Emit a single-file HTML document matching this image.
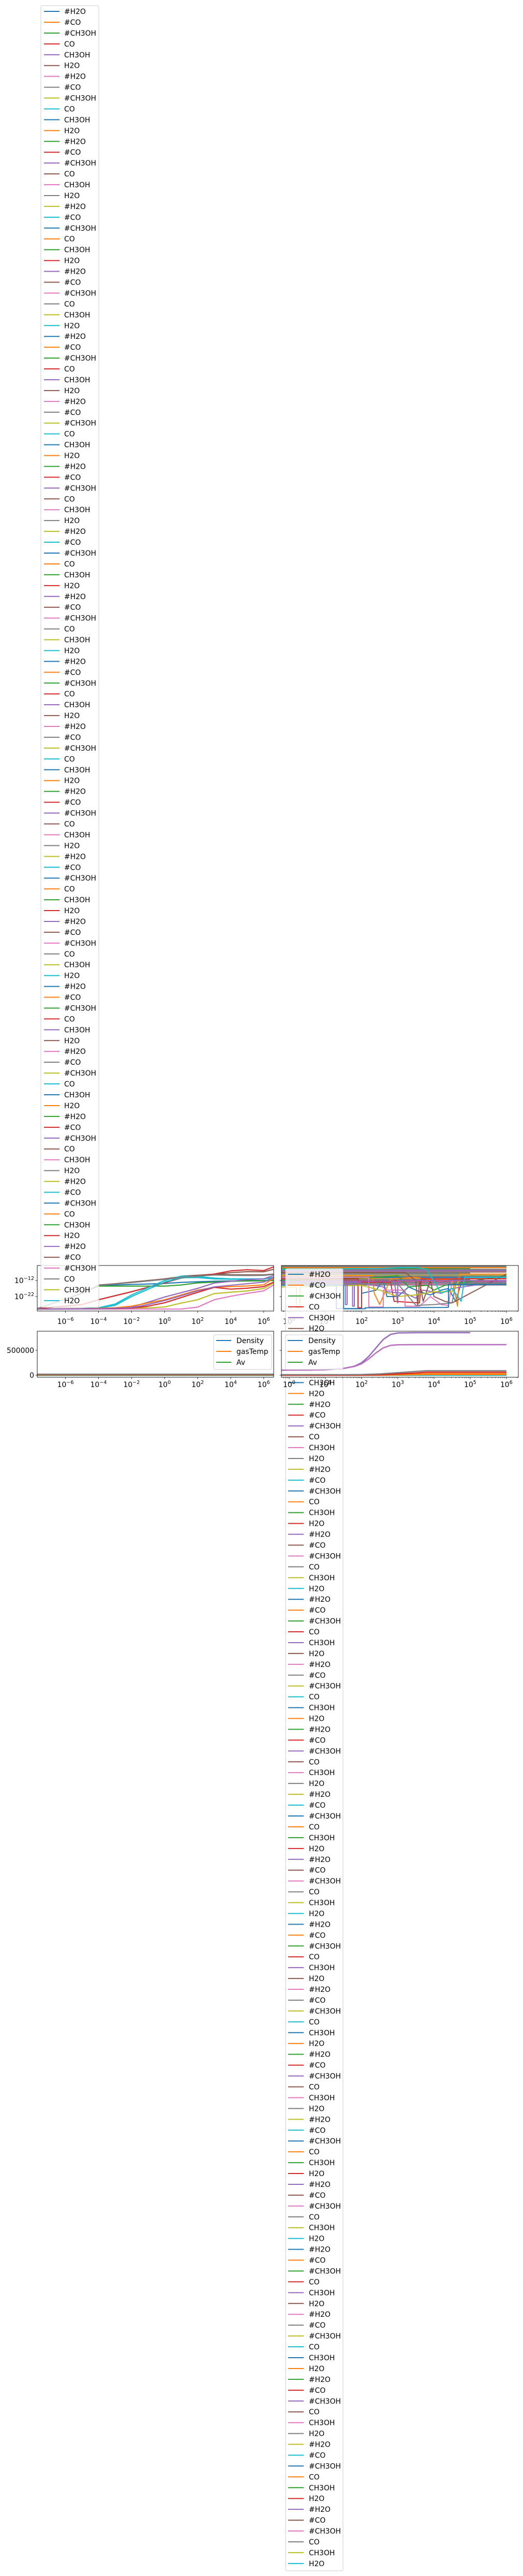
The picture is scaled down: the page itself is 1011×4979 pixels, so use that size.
<!DOCTYPE html>
<html><head><meta charset="utf-8">
<style>
html,body{margin:0;padding:0;background:#fff;}
svg{display:block;font-family:"DejaVu Sans","Liberation Sans",sans-serif;}
</style></head>
<body>
<svg id="fig" width="1011" height="4979" viewBox="0 0 1011 4979" xmlns="http://www.w3.org/2000/svg">
<rect x="0" y="0" width="1011" height="4979" fill="#fff"/>
</svg>
<script>
// ---------- data ----------
const speciesLabels = ["#H2O","#CO","#CH3OH","CO","CH3OH","H2O"];
const envLabels = ["Density","gasTemp","Av"];
const tab10 = ["#1f77b4","#ff7f0e","#2ca02c","#d62728","#9467bd","#8c564b","#e377c2","#7f7f7f","#bcbd22","#17becf"];
const legendRunCount = 20;

// top-left: log10(time) vs log10(abundance)
const tlX = [-7.7,-5,-4,-3,-2,-1,0,1,2,3,4,5,6,6.6];
const tlBlue   = [-29.5,-20,-15.2,-14.8,-14.5,-14.2,-13.8,-13.2,-12.8,-12.5,-12.3,-12.1,-12,-11.8];
const tlBrownA = [-29.5,-20,-14.8,-14,-13,-12,-11,-9.6,-8.8,-8,-8.4,-8.5,-8.5,-8];
const tlGreen  = [-29.5,-20,-15.5,-15.5,-15.5,-15.5,-15.5,-14.8,-13.5,-13,-12.5,-12.3,-12.2,-12];
const tlBrownB = [-29.5,-27,-24,-21.5,-19,-16.2,-13.6,-9.3,-8.7,-8.2,-7.1,-6.5,-6.6,-5];
const tlRedTop = [-29.5,-27,-24,-21.5,-19,-16.2,-13.4,-10.5,-9.5,-8,-6,-5.3,-5.8,-3.5];
const tlCyan   = [-29.8,-29.5,-29,-26.7,-21,-16.5,-12,-9.3,-9.5,-10.5,-11,-11,-11,-10];
const tlCyan2  = [-29.8,-29.6,-29.3,-27.5,-22,-17.5,-13,-10.3,-10.2,-11,-11.2,-11.2,-11,-10.5];
const tlPink   = [-29.8,-29.8,-29.8,-29.8,-29.8,-29.8,-29.8,-29.8,-28.6,-24,-21.8,-20,-18.5,-14.7];
const tlOlive  = [-29.8,-29.6,-29.5,-29.4,-29.2,-29,-28.5,-26.1,-24,-20.2,-19.3,-18.5,-17,-13.5];
const tlPurple = [-29.8,-29.6,-29.4,-29,-28.5,-25.5,-22.3,-19.6,-16.9,-13.6,-12.5,-11.5,-11,-8.8];
const tlOrange = [-29.8,-29.6,-29.4,-29,-28,-26,-24,-21,-18,-16.3,-15.8,-15.4,-14.7,-10.5];
const tlRedLow = [-29.8,-29.7,-29.6,-29.5,-29.2,-28,-25.9,-22.6,-19.4,-16.3,-17.4,-16.8,-15.8,-13];
const tlPurple2= [-29.8,-29.7,-29.6,-29.3,-29,-27,-24.5,-21.5,-18.5,-16,-15,-14,-13,-10];
const tlGray   = [-29.5,-20,-15,-14.2,-13.3,-12.3,-11.3,-10,-9.3,-8.6,-8.8,-8.9,-8.8,-8.2];
const tlSeries = [tlBlue,tlBrownA,tlGreen,tlBrownB,tlRedTop,tlCyan,tlCyan2,tlPink,tlOlive,tlPurple,tlOrange,tlRedLow,tlPurple2,tlGray];
const tlColors = ["#1f77b4","#8c564b","#2ca02c","#8c564b","#d62728","#17becf","#17becf","#e377c2","#bcbd22","#9467bd","#ff7f0e","#d62728","#9467bd","#7f7f7f"];

// top-right: flat levels and noisy drop series (log10 values)
const trFlatLevels = [-3.4,-4,-4.6,-5.3,-6,-6.7,-7.4,-8.1,-8.8,-9.5,-10.2,-10.9,-11.6,-12.3,-13,-13.7,-14.3,-14.8];
const trFlatEnd = [6,6,5,6,6,6,5,6,6,6,6,6,5,6,6,6,6,6];
const trS1x = [-0.21,1.3,1.3,2.0,2.0,2.4,2.6,2.7,3.0,3.3,3.6,3.9,4.2,4.4,4.6,4.8,6];
const trS1y = [-14,-14,-29.5,-29.5,-20,-18,-12,-22,-22,-16,-19,-21,-18,-17,-25,-10,-10];
const trS2x = [-0.21,2.3,2.35,2.5,2.8,3.5,4.0,4.5,4.65,4.7,6];
const trS2y = [-9,-9,-20,-27,-11,-10,-12,-11,-28,-8,-8];
const trS3x = [-0.21,2.5,3.0,3.3,3.8,4.0,4.3,6];
const trS3y = [-12,-10,-9,-16,-15,-18,-15,-9];
const trS4x = [-0.21,1.9,1.9,2.0,2.0,2.8,2.9,3.6,3.65,3.7,6];
const trS4y = [-11,-11,-29,-29,-13,-13,-25,-26,-11,-11,-11];
const trS5x = [-0.21,1.75,1.75,1.8,1.8,2.6,2.7,3.2,3.5,3.7,4.2,4.5,6];
const trS5y = [-13,-13,-28,-28,-13,-16,-19,-20,-23,-18,-20,-17,-12];
const trS6x = [-0.21,3.2,3.5,3.55,3.6,3.7,3.9,4.0,4.3,4.5,6];
const trS6y = [-7,-7,-12,-28,-12,-25,-12,-22,-25,-26,-8];
const trS7x = [-0.21,2.2,2.2,2.6,2.6,3.2,3.2,3.6,3.9,4.2,4.4,4.5,6];
const trS7y = [-10,-10,-28.5,-28.5,-18,-18,-28,-28,-22,-27,-27.5,-12,-12];
const trS8x = [-0.21,3.0,3.5,4.0,4.5,4.6,6];
const trS8y = [-14,-14,-27.5,-27,-26,-14,-14];
const trS9x = [-0.21,0.2,0.2,0.3,0.3,2.0,2.5,3.0,3.5,4.0,4.5,4.7,6];
const trS9y = [-16,-16,-29,-29,-16,-15,-18,-22,-21,-19,-19,-12,-12];
const trS10x = [-0.21,2.5,3.0,3.5,3.8,4.2,4.5,4.75,4.85,6];
const trS10y = [-5,-4.5,-4,-3.8,-5,-20,-17,-25,-10,-10];
const trS11x = [-0.21,1.55,1.55,1.6,1.6,2.9,3.0,3.0,6];
const trS11y = [-12.5,-12.5,-27,-27,-12.5,-12.5,-26,-12,-12];
const trS12x = [-0.21,1.5,1.5,2.1,2.1,4.3,4.4,4.4,6];
const trS12y = [-15,-15,-29.6,-29.6,-29,-28.8,-28.7,-14.5,-14.5];
const trDropX = [trS1x,trS2x,trS3x,trS4x,trS5x,trS6x,trS7x,trS8x,trS9x,trS10x,trS11x,trS12x];
const trDropY = [trS1y,trS2y,trS3y,trS4y,trS5y,trS6y,trS7y,trS8y,trS9y,trS10y,trS11y,trS12y];
const trDropColors = ["#1f77b4","#ff7f0e","#2ca02c","#d62728","#9467bd","#8c564b","#e377c2","#7f7f7f","#bcbd22","#17becf","#9467bd","#1f77b4"];

// bottom-left: flat physical params
const blLevels = [0,0,2000,5000,10000,20000];
const blColors = ["#1f77b4","#17becf","#ff7f0e","#2ca02c","#d62728","#7f7f7f"];

// bottom-right
const brX = [-0.21,0,0.5,1,1.5,1.8,2,2.2,2.4,2.6,2.8,3,3.5,4,5,6];
const brP1 = [100000,101000,103000,110000,135000,180000,250000,380000,550000,720000,820000,850000,855000,855000,855000];
const brP2 = [100000,101000,103000,110000,135000,175000,230000,330000,450000,550000,600000,612000,615000,615000,615000,615000];
const brLowX = [-0.21,1.5,2,2.5,3,3.5,3.8,6];
const brGray = [10000,10000,12000,25000,50000,75000,90000,90000];
const brRed = [0,0,2000,8000,25000,45000,60000,60000];
const brOrange = [0,0,0,3000,10000,20000,30000,30000];
const brOrange2 = [0,0,0,1000,5000,10000,15000,15000];
const brZero = [0,0,0,0,0,0,0,0];

// ---------- helpers ----------
const NS = "http://www.w3.org/2000/svg";
const svg = document.getElementById("fig");
function el(tag, attrs, parent) {
  const e = document.createElementNS(NS, tag);
  for (const k in attrs) e.setAttribute(k, attrs[k]);
  (parent || svg).appendChild(e);
  return e;
}
function makeAxes(x0, x1, y0, y1, xmin, xmax, ymin, ymax) {
  return {
    x0, x1, y0, y1,
    sx: v => x0 + (v - xmin) / (xmax - xmin) * (x1 - x0),
    sy: v => y1 - (v - ymin) / (ymax - ymin) * (y1 - y0)
  };
}
const TL = makeAxes(72, 529, 2446, 2534, -7.71, 6.6, -31.03, -2.65);
const TR = makeAxes(544, 1002, 2446, 2534, -0.214, 6.33, -31.03, -2.65);
const BL = makeAxes(72, 529, 2573, 2662, -7.71, 6.6, -41667, 885417);
const BR = makeAxes(544, 1002, 2573, 2662, -0.214, 6.33, -41667, 885417);

function clip(ax, id) {
  const cp = el("clipPath", {id});
  el("rect", {x: ax.x0, y: ax.y0, width: ax.x1 - ax.x0, height: ax.y1 - ax.y0}, cp);
}
function line(ax, xs, ys, color, w, g) {
  const pts = xs.slice(0, ys.length).map((x, i) => ax.sx(x).toFixed(1) + "," + ax.sy(ys[i]).toFixed(1)).join(" ");
  return el("polyline", {points: pts, fill: "none", stroke: color, "stroke-width": w, "stroke-linejoin": "round"}, g);
}
function powLabel(x, y, exp, anchor, g) {
  const t = el("text", {x, y, "font-size": "13.9", "text-anchor": anchor, fill: "#000"}, g);
  t.appendChild(document.createTextNode("10"));
  const s = el("tspan", {dy: "-6", "font-size": "9.7"}, t);
  s.textContent = exp;
  return t;
}
function frame(ax, name) {
  const r = el("rect", {x: ax.x0, y: ax.y0, width: ax.x1 - ax.x0, height: ax.y1 - ax.y0, fill: "none", stroke: "#000", "stroke-width": "0.9"});
  
  
}
function xTicksLog(ax, decades, labelY, minor, g) {
  decades.forEach(d => {
    const x = ax.sx(d);
    el("line", {x1: x, x2: x, y1: ax.y1, y2: ax.y1 + 3.5, stroke: "#000", "stroke-width": "0.8"}, g);
    const t = powLabel(x, labelY, d < 0 ? "\u2212" + (-d) : String(d), "middle", g);
    
    
  });
  if (minor) {
    for (let d = -1; d <= 6; d++) for (let m = 2; m <= 9; m++) {
      const v = d + Math.log10(m);
      if (v < -0.214 || v > 6.33) continue;
      const x = ax.sx(v);
      el("line", {x1: x, x2: x, y1: ax.y1, y2: ax.y1 + 2, stroke: "#000", "stroke-width": "0.6"}, g);
    }
  }
}
function yTick(ax, v, g) {
  const y = ax.sy(v);
  el("line", {x1: ax.x0 - 3.5, x2: ax.x0, y1: y, y2: y, stroke: "#000", "stroke-width": "0.8"}, g);
}
function legend(x0, x1, y0, y1, firstY, step, labels, colorFn, name, handleX0, handleX1, textX) {
  const g = el("g", {});
  
  
  el("rect", {x: x0, y: y0, width: x1 - x0, height: y1 - y0, rx: 2.5, fill: "rgba(255,255,255,0.8)", stroke: "#cccccc", "stroke-width": "1"}, g);
  labels.forEach((lab, k) => {
    const y = firstY + k * step;
    const e = el("g", {}, g);
    
    
    el("line", {x1: handleX0, x2: handleX1, y1: y, y2: y, stroke: colorFn(k), "stroke-width": "2"}, e);
    const t = el("text", {x: textX, y: y + 5, "font-size": "13.9", fill: "#000"}, e);
    t.textContent = lab;
  });
  return g;
}

// ---------- top-left axes ----------
clip(TL, "cTL");
const gTL = el("g", {"clip-path": "url(#cTL)"});


tlSeries.forEach((ys, i) => {
  const p = line(TL, tlX, ys, tlColors[i], 2.2, gTL);
  
  
});
frame(TL, "abundance-left-frame");
const gTLt = el("g", {});


xTicksLog(TL, [-6,-4,-2,0,2,4,6], 2559, false, gTLt);
[-12, -22].forEach(v => {
  yTick(TL, v, gTLt);
  const t = powLabel(66, TL.sy(v) + 5, "\u2212" + (-v), "end", gTLt);
  
  
});

// ---------- top-right axes ----------
clip(TR, "cTR");
const gTR = el("g", {"clip-path": "url(#cTR)"});


trFlatLevels.forEach((v, i) => {
  const p = line(TR, [-0.214, trFlatEnd[i]], [v, v], i % 3 === 0 ? "#7f7f7f" : tab10[i % 10], i % 3 === 0 ? 4 : 2, gTR);
  
  
});
trDropX.forEach((xs, i) => {
  const p = line(TR, xs, trDropY[i], trDropColors[i], 2, gTR);
  
  
});
frame(TR, "abundance-right-frame");
const gTRt = el("g", {});


xTicksLog(TR, [0,1,2,3,4,5,6], 2559, true, gTRt);
[-12, -22].forEach(v => yTick(TR, v, gTRt));

// ---------- bottom-left axes ----------
clip(BL, "cBL");
const gBL = el("g", {"clip-path": "url(#cBL)"});


blLevels.forEach((v, i) => {
  const p = line(BL, [-7.71, 6.6], [v, v], blColors[i], 2.5, gBL);
  
  
});
frame(BL, "physical-left-frame");
const gBLt = el("g", {});


xTicksLog(BL, [-6,-4,-2,0,2,4,6], 2681, false, gBLt);
[0, 500000].forEach(v => {
  yTick(BL, v, gBLt);
  const t = el("text", {x: 66, y: BL.sy(v) + 5, "font-size": "13.9", "text-anchor": "end"}, gBLt);
  t.textContent = String(v);
  
  
});
legend(413, 525, 2580, 2647, 2591, 21, envLabels, k => tab10[k], "physical-left-legend", 418, 447, 457);

// ---------- top-left legend (drawn over its axes) ----------
const tlLabels = [];
for (let r = 0; r < legendRunCount; r++) speciesLabels.forEach(l => tlLabels.push(l));
legend(79, 191, 11, 2527, 22, 20.94, tlLabels, k => tab10[k % 10], "abundance-left-legend", 85, 115, 124);

// ---------- top-right legend (extends down the page) ----------
legend(552, 663, 2452, 4969, 2463, 20.94, tlLabels, k => tab10[k % 10], "abundance-right-legend", 557, 587, 597);

// ---------- bottom-right axes (drawn over the long legend) ----------
const bg = el("rect", {x: BR.x0, y: BR.y0, width: BR.x1 - BR.x0, height: BR.y1 - BR.y0, fill: "#fff"});


clip(BR, "cBR");
const gBR = el("g", {"clip-path": "url(#cBR)"});


[[brZero,"#1f77b4"],[brZero,"#17becf"],[brOrange2,"#ff7f0e"],[brOrange,"#ff7f0e"],[brRed,"#d62728"],[brGray,"#7f7f7f"]].forEach(([ys, c]) => {
  const p = line(BR, brLowX, ys, c, 2.5, gBR);
  
  
});
const pa = line(BR, brX, brP1, "#9467bd", 2.5, gBR);


const pb = line(BR, brX, brP2, "#9467bd", 2.5, gBR);


const pc = line(BR, brX, brP2, "#e377c2", 1, gBR);


frame(BR, "physical-right-frame");
const gBRt = el("g", {});


xTicksLog(BR, [0,1,2,3,4,5,6], 2681, true, gBRt);
[0, 500000].forEach(v => yTick(BR, v, gBRt));
legend(552, 663, 2580, 2647, 2591, 21, envLabels, k => tab10[k], "physical-right-legend", 556, 585, 596);
</script>
</body></html>
